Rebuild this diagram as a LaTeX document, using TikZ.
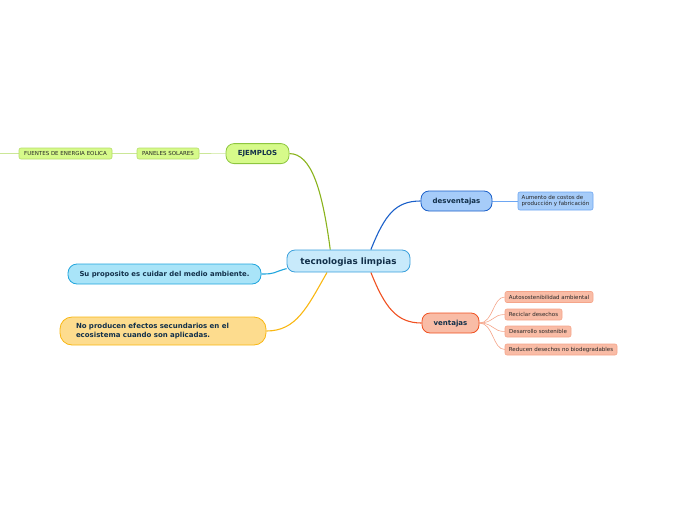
\documentclass[tikz,border=0pt]{standalone}
\usepackage{fontspec}
\setmainfont{DejaVu Sans}
\usetikzlibrary{backgrounds}

\definecolor{centralfill}{HTML}{C8EAFB}
\definecolor{centralline}{HTML}{3AA0DC}
\definecolor{topictext}{HTML}{12304A}
\definecolor{greenfill}{HTML}{D6FA8A}
\definecolor{greenline}{HTML}{8EC63F}
\definecolor{greenlight}{HTML}{B5DD6A}
\definecolor{greenedge}{HTML}{8AB31C}
\definecolor{bluefill}{HTML}{A6CCF9}
\definecolor{blueline}{HTML}{1A5FC9}
\definecolor{bluelight}{HTML}{6DA6F2}
\definecolor{salmonfill}{HTML}{F9BCA6}
\definecolor{salmonline}{HTML}{F05020}
\definecolor{salmonlight}{HTML}{F5A58A}
\definecolor{skyfill}{HTML}{A9E4F8}
\definecolor{skyline}{HTML}{1FA5DD}
\definecolor{yellowfill}{HTML}{FDDC8E}
\definecolor{yellowline}{HTML}{F9B712}

\tikzset{
  topic/.style={draw, line width=0.8pt, rounded corners=8pt, inner sep=0pt,
    minimum height=20pt, text=topictext, font=\bfseries\fontsize{7}{8}\selectfont},
  leaf/.style={draw, line width=0.6pt, rounded corners=2pt, inner sep=0pt,
    minimum height=11pt, text=black!85, font=\fontsize{5.5}{6.5}\selectfont},
  edge/.style={line width=1.1pt},
  twig/.style={line width=0.6pt}
}

\begin{document}
\begin{tikzpicture}[x=1pt,y=-1pt]
\useasboundingbox (0,0) rectangle (696,520);

% Draw the central topic
\node[topic, fill=centralfill, draw=centralline, minimum width=123pt, minimum height=22pt,
  text depth=0pt, font=\bfseries\fontsize{8.8}{10}\selectfont] (central) at (348.5,261) {tecnologias limpias};

% Draw the examples branch
\node[topic, fill=greenfill, draw=greenline, minimum width=63pt] (ejemplos) at (257.5,153.6) {EJEMPLOS};
\node[leaf, fill=greenfill, draw=greenlight, minimum width=62pt] (paneles) at (168,153.5) {PANELES SOLARES};
\node[leaf, fill=greenfill, draw=greenlight, minimum width=93pt] (fuentes) at (65.5,153.5) {FUENTES DE ENERGIA EOLICA};
\coordinate (fuentesend) at (0,153.5);

% Draw the disadvantages branch
\node[topic, fill=bluefill, draw=blueline, minimum width=71pt, text depth=0pt] (desventajas) at (456.5,201) {desventajas};
\node[leaf, fill=bluefill, draw=bluelight, minimum width=75pt, minimum height=18pt,
  align=left] (costos) at (555.5,201) {Aumento de costos de\\producción y fabricación};

% Draw the advantages branch
\node[topic, fill=salmonfill, draw=salmonline, minimum width=57pt, text depth=0pt] (ventajas) at (450.5,323) {ventajas};
\node[leaf, fill=salmonfill, draw=salmonlight, minimum width=88pt] (auto) at (549,297) {Autosostenibilidad ambiental};
\node[leaf, fill=salmonfill, draw=salmonlight, minimum width=57pt] (reciclar) at (533.5,314.5) {Reciclar desechos};
\node[leaf, fill=salmonfill, draw=salmonlight, minimum width=66pt] (desarrollo) at (538,331.5) {Desarrollo sostenible};
\node[leaf, fill=salmonfill, draw=salmonlight, minimum width=112pt] (reducen) at (561,349.5) {Reducen desechos no biodegradables};

% Draw the two loose ideas
\node[topic, fill=skyfill, draw=skyline, minimum width=193pt, rounded corners=9pt, text depth=0pt,
  font=\bfseries\fontsize{6.9}{8}\selectfont] (proposito) at (164.5,274) {Su proposito es cuidar del medio ambiente.};
\node[topic, fill=yellowfill, draw=yellowline, minimum width=206pt, minimum height=28pt,
  rounded corners=12pt, align=left, text width=174pt,
  font=\bfseries\fontsize{7}{8.2}\selectfont] (efectos) at (163,331) {No producen efectos secundarios en el\\ecosistema cuando son aplicadas.};

% Draw the connectors behind the nodes
\begin{scope}[on background layer]
\draw[edge, greenedge] (central.148) .. controls +(-8,-60) and +(22,0) .. (ejemplos.east);
\draw[twig, greenlight!70] (ejemplos.west) -- (paneles.east);
\draw[twig, greenlight!70] (paneles.west) -- (fuentes.east);
\draw[twig, greenlight!70] (fuentes.west) -- (fuentesend);
\draw[edge, blueline] (central.27) .. controls +(14,-35) and +(-25,0) .. (desventajas.west);
\draw[twig, bluelight] (desventajas.east) -- (costos.west);
\draw[edge, salmonline] (central.-27) .. controls +(14,35) and +(-25,0) .. (ventajas.west);
\foreach \leafname in {auto, reciclar, desarrollo, reducen}
  \draw[twig, salmonlight] (ventajas.east) .. controls +(14,0) and +(-12,0) .. (\leafname.west);
\draw[edge, skyline] (central.187) .. controls +(-15,4) and +(15,0) .. (proposito.east);
\draw[edge, yellowline] (central.208) .. controls +(-20,35) and +(30,0) .. (efectos.east);
\end{scope}

\end{tikzpicture}
\end{document}
